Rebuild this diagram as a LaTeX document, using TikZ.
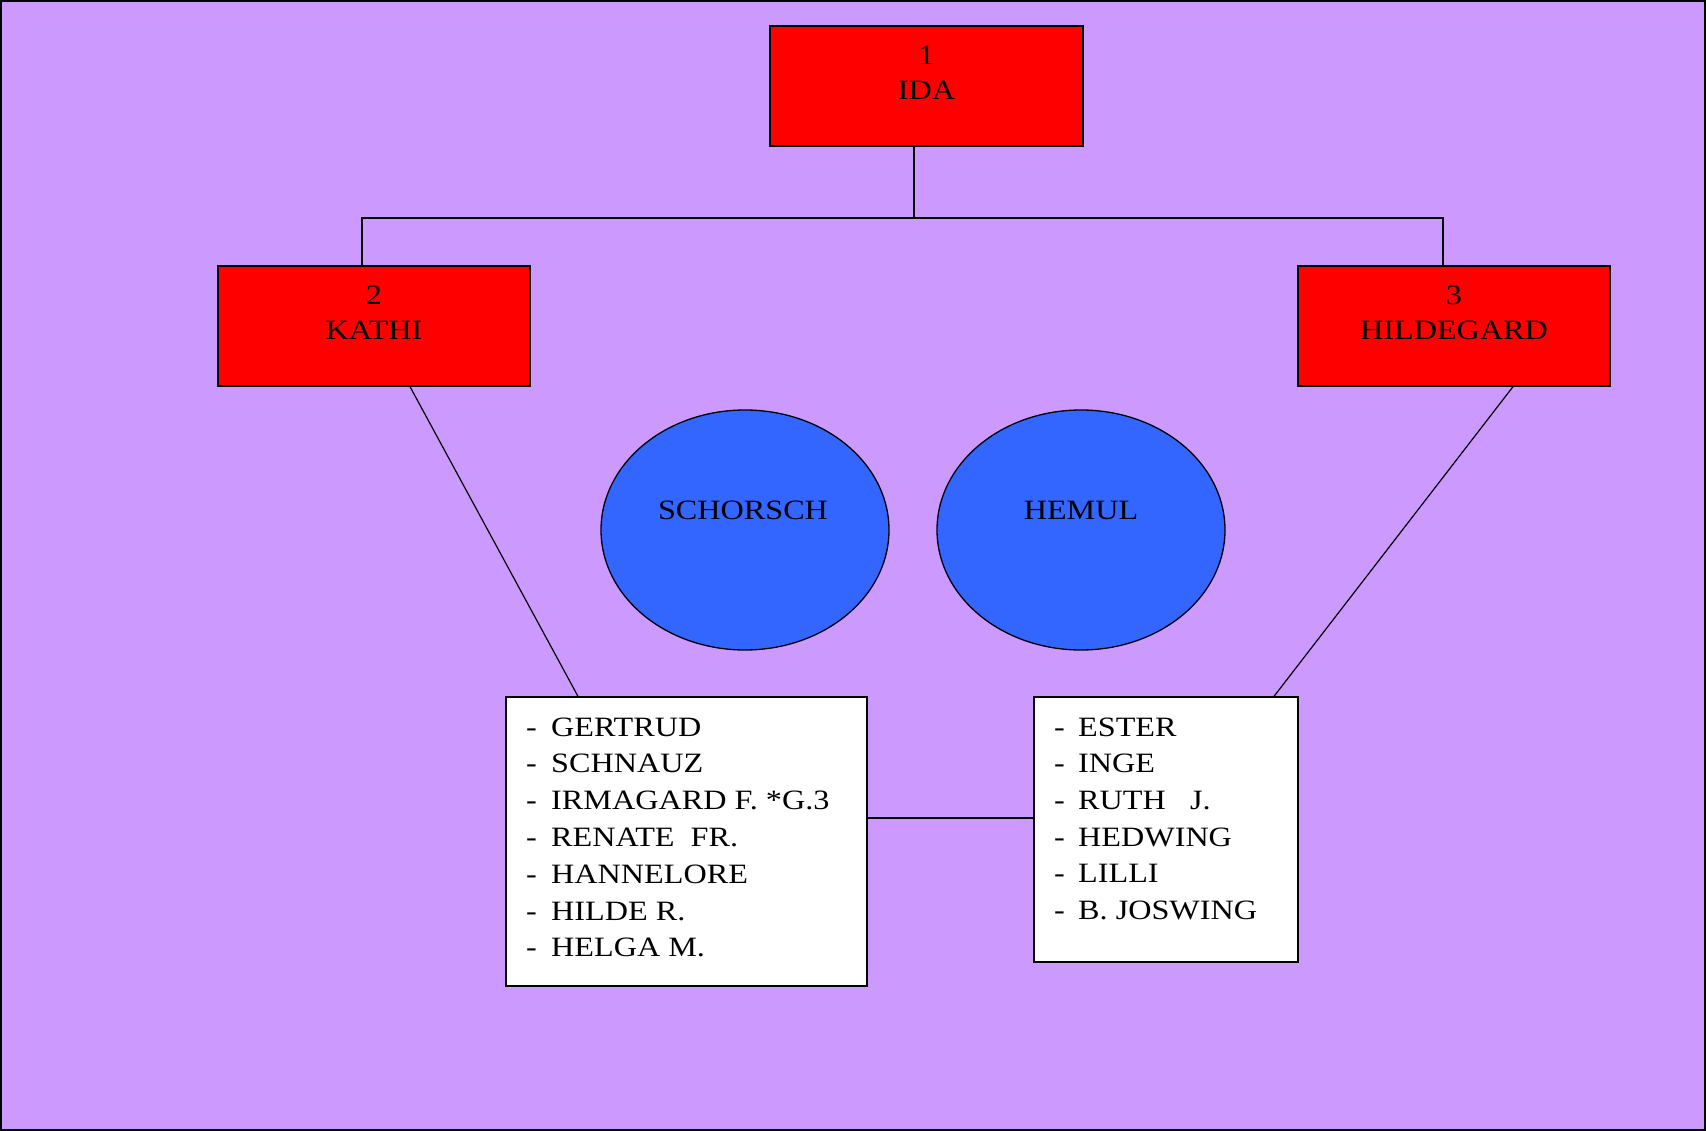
\documentclass[tikz,border=0pt]{standalone}
\usepackage{fontspec}
\setmainfont{Liberation Serif}[FakeStretch=1.15]
\usetikzlibrary{shapes.geometric}
\definecolor{bg}{HTML}{CC99FF}
\definecolor{ovalblue}{HTML}{3366FF}
\begin{document}
\begin{tikzpicture}[x=1pt,y=-1pt,
  redbox/.style={draw=black,line width=1.3pt,fill=red,rectangle,minimum width=313pt,minimum height=120pt,inner sep=0pt},
  listbox/.style={draw=black,line width=1.3pt,fill=white,rectangle,inner sep=0pt},
  oval/.style={draw=black,line width=1.3pt,fill=ovalblue,ellipse,minimum width=288pt,minimum height=240pt,inner sep=0pt},
  txt/.style={font=\fontsize{28}{30}\selectfont,anchor=base,inner sep=0pt},
  ltxt/.style={font=\fontsize{28}{30}\selectfont,anchor=base west,inner sep=0pt},
  conn/.style={draw=black,line width=1.2pt}]
\useasboundingbox (0,0) rectangle (1706,1131);
\fill[bg] (0,0) rectangle (1706,1131);
\draw[line width=2pt] (1,1) rectangle (1705,1130);

% red boxes
\node[redbox] (ida) at (926.5,86) {};
\node[txt] (idanum) at (926.5,65) {1};
\node[txt] (idaname) at (926.5,100) {IDA};
\node[redbox,minimum width=312pt] (kathi) at (374,326) {};
\node[txt] (kathinum) at (374,305) {2};
\node[txt] (kathiname) at (374,340) {KATHI};
\node[redbox,minimum width=312pt] (hilde) at (1454,326) {};
\node[txt] (hildenum) at (1454,305) {3};
\node[txt] (hildename) at (1454,340) {HILDEGARD};

% ovals
\node[oval] (schorsch) at (745,530) {};
\node[txt] (schorschtxt) at (743,519) {SCHORSCH};
\node[oval] (hemul) at (1081,530) {};
\node[txt] (hemultxt) at (1081,519) {HEMUL};

% list boxes
\node[listbox,minimum width=361pt,minimum height=289pt] (left) at (686.5,841.5) {};
\node[listbox,minimum width=264pt,minimum height=265pt] (right) at (1166,829.5) {};

\foreach \n/\t [count=\i from 0] in {a/GERTRUD,b/SCHNAUZ,c/{IRMAGARD F. *G.3},d/{RENATE\ \ FR.},e/HANNELORE,f/{HILDE R.},g/{HELGA M.}}{
  \node[ltxt] (ld\n) at (526,{736+36.8*\i}) {-};
  \node[ltxt] (l\n) at (551,{736+36.8*\i}) {\t};
}
\foreach \n/\t [count=\i from 0] in {a/ESTER,b/INGE,c/{RUTH\ \ \ J.},d/HEDWING,e/LILLI,f/{B. JOSWING}}{
  \node[ltxt] (rd\n) at (1054,{736+36.7*\i}) {-};
  \node[ltxt] (r\n) at (1078,{736+36.7*\i}) {\t};
}

% connectors
\coordinate (j) at (914,218);
\draw[conn] (ida.south -| j) -- (j);
\draw[conn] (j) -| ([xshift=-12pt]kathi.north);
\draw[conn] (j) -| ([xshift=-11pt]hilde.north);
\draw[conn] ([xshift=36pt]kathi.south) -- ([xshift=-108.5pt]left.north);
\draw[conn] ([xshift=59pt]hilde.south) -- ([xshift=108pt]right.north);
\draw[conn] (left.east |- 0,818) -- (right.west |- 0,818);
\end{tikzpicture}
\end{document}
